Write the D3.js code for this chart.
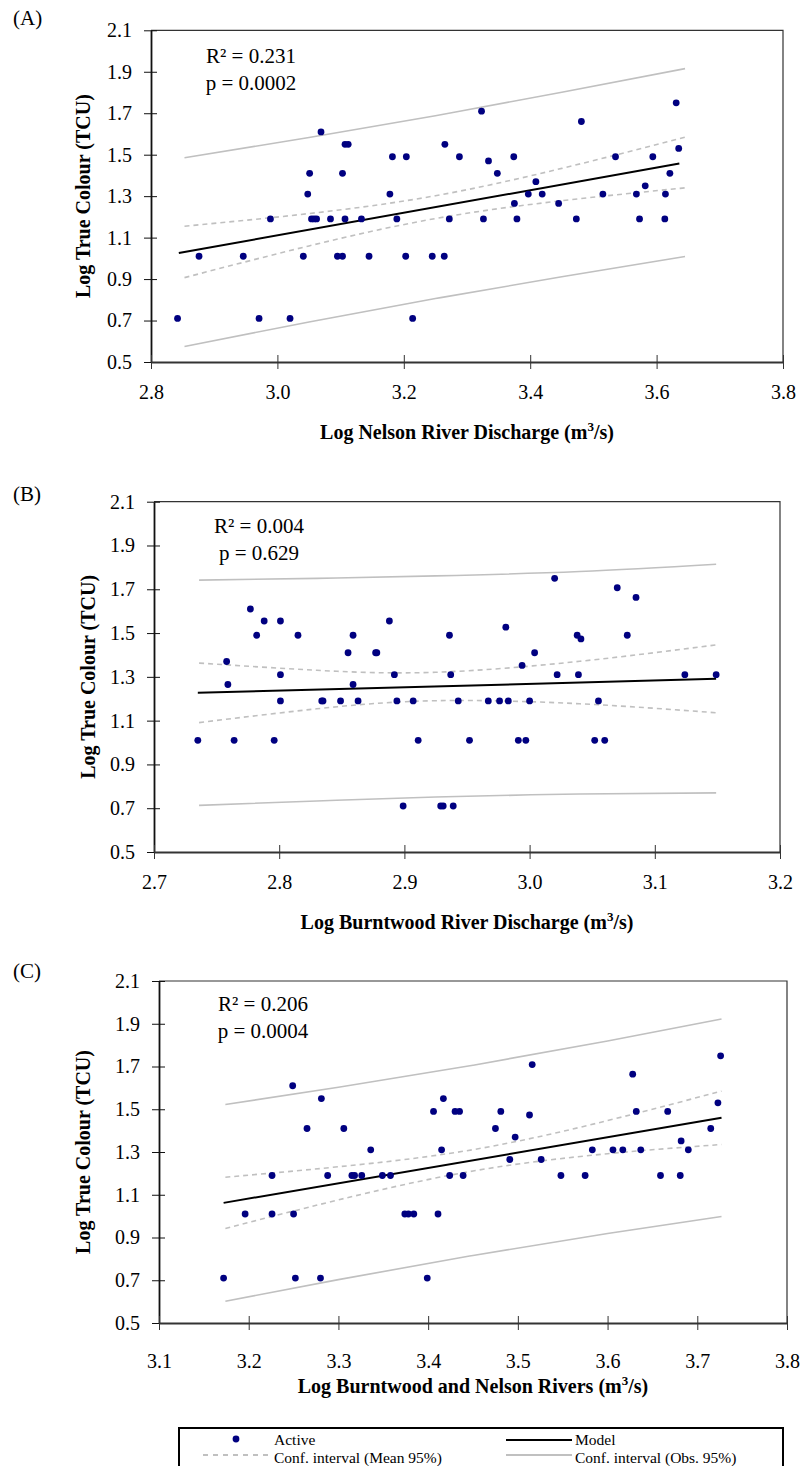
<!DOCTYPE html>
<html><head><meta charset="utf-8">
<script src="https://cdn.jsdelivr.net/npm/d3@7"></script>
<style>
body{margin:0;background:#fff;}
svg{display:block;font-family:"Liberation Serif","Times New Roman",serif;}
</style>
</head><body><svg id="c" width="801" height="1466"></svg>
<script>
// ---------- shared ----------
const yTicks = [0.5,0.7,0.9,1.1,1.3,1.5,1.7,1.9,2.1];
const panelLetters = ["(A)","(B)","(C)"];
const xTitles = ["Log Nelson River Discharge (m", "Log Burntwood River Discharge (m", "Log Burntwood and Nelson Rivers (m"];
const yTitle = "Log True Colour (TCU)";
const statsR2 = ["0.231","0.004","0.206"];
const statsP = ["0.0002","0.629","0.0004"];
const legendLabels = ["Active","Model","Conf. interval (Mean 95%)","Conf. interval (Obs. 95%)"];

// ---------- panel A ----------
const xTicksA = [2.8,3.0,3.2,3.4,3.6,3.8];
const xA = [2.842,2.876,2.946,2.971,2.989,3.020,3.041,3.048,3.051,3.054,3.058,3.062,3.069,3.084,3.095,3.103,3.103,3.107,3.107,3.112,3.133,3.145,3.178,3.182,3.189,3.203,3.204,3.214,3.245,3.264,3.265,3.272,3.288,3.323,3.326,3.334,3.348,3.374,3.375,3.379,3.397,3.409,3.419,3.445,3.473,3.481,3.515,3.535,3.568,3.573,3.582,3.594,3.613,3.614,3.621,3.631,3.635];
const yA = [0.71,1.01,1.01,0.71,1.19,0.71,1.01,1.31,1.41,1.19,1.19,1.19,1.61,1.19,1.01,1.01,1.41,1.19,1.55,1.55,1.19,1.01,1.31,1.49,1.19,1.01,1.49,0.71,1.01,1.01,1.55,1.19,1.49,1.71,1.19,1.47,1.41,1.49,1.265,1.19,1.31,1.37,1.31,1.265,1.19,1.66,1.31,1.49,1.31,1.19,1.35,1.49,1.19,1.31,1.41,1.75,1.53];
const modelXA = [2.844,3.636];
const modelYA = [1.026,1.457];
const ciXA = [2.853,3.05,3.25,3.45,3.645];
const meanUpA = [1.155,1.216,1.302,1.434,1.584];
const meanLoA = [0.907,1.060,1.192,1.278,1.340];
const obsUpA = [1.485,1.583,1.688,1.801,1.915];
const obsLoA = [0.575,0.693,0.806,0.911,1.009];

// ---------- panel B ----------
const xTicksB = [2.7,2.8,2.9,3.0,3.1,3.2];
const xB = [2.735,2.758,2.759,2.764,2.777,2.782,2.788,2.796,2.801,2.801,2.801,2.815,2.834,2.835,2.849,2.855,2.859,2.859,2.863,2.877,2.878,2.888,2.892,2.894,2.899,2.907,2.911,2.929,2.931,2.936,2.937,2.939,2.943,2.952,2.967,2.976,2.981,2.983,2.991,2.994,2.997,3.000,3.004,3.020,3.022,3.038,3.039,3.041,3.052,3.055,3.060,3.070,3.078,3.085,3.124,3.149];
const yB = [1.01,1.37,1.265,1.01,1.61,1.49,1.555,1.01,1.555,1.31,1.19,1.49,1.19,1.19,1.19,1.41,1.49,1.265,1.19,1.41,1.41,1.555,1.31,1.19,0.71,1.19,1.01,0.71,0.71,1.49,1.31,0.71,1.19,1.01,1.19,1.19,1.527,1.19,1.01,1.352,1.01,1.19,1.41,1.75,1.31,1.49,1.31,1.473,1.01,1.19,1.01,1.707,1.49,1.663,1.31,1.31];
const modelXB = [2.735,3.149];
const modelYB = [1.227,1.291];
const ciXB = [2.736,2.83,2.925,3.04,3.149];
const meanUpB = [1.363,1.330,1.321,1.371,1.446];
const meanLoB = [1.091,1.154,1.191,1.177,1.136];
const obsUpB = [1.742,1.750,1.761,1.781,1.814];
const obsLoB = [0.713,0.733,0.751,0.765,0.770];

// ---------- panel C ----------
const xTicksC = [3.1,3.2,3.3,3.4,3.5,3.6,3.7,3.8];
const xC = [3.172,3.196,3.226,3.226,3.249,3.250,3.252,3.265,3.280,3.281,3.288,3.306,3.315,3.318,3.326,3.336,3.349,3.358,3.374,3.378,3.384,3.399,3.406,3.411,3.415,3.417,3.424,3.430,3.435,3.439,3.475,3.481,3.491,3.497,3.513,3.516,3.526,3.548,3.575,3.583,3.606,3.617,3.628,3.632,3.637,3.659,3.667,3.681,3.682,3.690,3.715,3.723,3.726];
const yC = [0.71,1.01,1.19,1.01,1.61,1.01,0.71,1.41,0.71,1.55,1.19,1.41,1.19,1.19,1.19,1.31,1.19,1.19,1.01,1.01,1.01,0.71,1.49,1.01,1.31,1.55,1.19,1.49,1.49,1.19,1.41,1.49,1.265,1.37,1.473,1.709,1.265,1.19,1.19,1.31,1.31,1.31,1.664,1.49,1.31,1.19,1.49,1.19,1.352,1.31,1.41,1.53,1.75];
const modelXC = [3.172,3.727];
const modelYC = [1.062,1.460];
const ciXC = [3.174,3.30,3.45,3.60,3.727];
const meanUpC = [1.182,1.231,1.311,1.447,1.585];
const meanLoC = [0.942,1.076,1.211,1.292,1.335];
const obsUpC = [1.522,1.603,1.706,1.819,1.922];
const obsLoC = [0.602,0.703,0.816,0.919,0.998];

// ---------- layout ----------
const layouts = [
  {l:151, t:30.3, r:783, b:362, tickLblY:37, titleY:77, yTitleX:90, statX:251, statY:63, letterY:25},
  {l:154, t:501.7, r:780, b:852, tickLblY:37, titleY:77, yTitleX:95, statX:259, statY:533, letterY:501},
  {l:159, t:981, r:787, b:1323, tickLblY:45, titleY:70, yTitleX:90, statX:263, statY:1011, letterY:978}
];
const panels = [
  {xt:xTicksA, x:xA, y:yA, mx:modelXA, my:modelYA, cx:ciXA, mu:meanUpA, ml:meanLoA, ou:obsUpA, ol:obsLoA},
  {xt:xTicksB, x:xB, y:yB, mx:modelXB, my:modelYB, cx:ciXB, mu:meanUpB, ml:meanLoB, ou:obsUpB, ol:obsLoB},
  {xt:xTicksC, x:xC, y:yC, mx:modelXC, my:modelYC, cx:ciXC, mu:meanUpC, ml:meanLoC, ou:obsUpC, ol:obsLoC}
];

const svg = d3.select("#c");
const NAVY = "#000080", GREY = "#c0c0c0";

panels.forEach((p, i) => {
  const L = layouts[i];
  const x = d3.scaleLinear().domain([p.xt[0], p.xt[p.xt.length-1]]).range([L.l, L.r]);
  const y = d3.scaleLinear().domain([yTicks[0], yTicks[yTicks.length-1]]).range([L.b, L.t]);
  const g = svg.append("g");

  g.append("path")
    .attr("d", `M${L.l},${L.t}H${L.r}V${L.b}`)
    .attr("fill","none").attr("stroke","#333").attr("stroke-width",1.2);

  const ya = g.append("g").attr("transform",`translate(${L.l},0)`)
    .call(d3.axisLeft(y).tickValues(yTicks).tickFormat(d3.format(".1f")).tickSize(7).tickPadding(12).tickSizeOuter(0));
  ya.select(".domain").attr("stroke","#111").attr("stroke-width",1.8);
  ya.selectAll(".tick line").attr("x1",-7).attr("x2",6).attr("stroke","#111");
  ya.selectAll(".tick text").attr("font-size",20).attr("font-family","Liberation Serif").attr("fill","#000");

  const xa = g.append("g").attr("transform",`translate(0,${L.b})`)
    .call(d3.axisBottom(x).tickValues(p.xt).tickFormat(d3.format(".1f")).tickSize(7).tickSizeOuter(0));
  xa.select(".domain").attr("stroke","#333").attr("stroke-width",2);
  xa.selectAll(".tick line").attr("y1",-7).attr("y2",7).attr("stroke","#333");
  xa.selectAll(".tick text").attr("font-size",20).attr("font-family","Liberation Serif").attr("fill","#000")
    .attr("dy",null).attr("y",L.tickLblY);

  const lineC = d3.line().x(d=>x(d[0])).y(d=>y(d[1])).curve(d3.curveNatural);
  const zip = (xs, ys) => xs.map((v,k)=>[v, ys[k]]);
  g.append("path").attr("d", lineC(zip(p.cx, p.ou))).attr("fill","none").attr("stroke",GREY).attr("stroke-width",1.6);
  g.append("path").attr("d", lineC(zip(p.cx, p.ol))).attr("fill","none").attr("stroke",GREY).attr("stroke-width",1.6);
  g.append("path").attr("d", lineC(zip(p.cx, p.mu))).attr("fill","none").attr("stroke",GREY).attr("stroke-width",1.6).attr("stroke-dasharray","5,4");
  g.append("path").attr("d", lineC(zip(p.cx, p.ml))).attr("fill","none").attr("stroke",GREY).attr("stroke-width",1.6).attr("stroke-dasharray","5,4");
  g.append("path").attr("d", d3.line().x(d=>x(d[0])).y(d=>y(d[1]))(zip(p.mx, p.my)))
    .attr("fill","none").attr("stroke","#000").attr("stroke-width",2);

  g.selectAll("circle.pt").data(zip(p.x, p.y)).join("circle")
    .attr("class","pt").attr("cx",d=>x(d[0])).attr("cy",d=>y(d[1])).attr("r",3.4).attr("fill",NAVY);

  const st = g.append("text").attr("font-size",21).attr("text-anchor","middle").attr("fill","#000");
  st.append("tspan").attr("x",L.statX).attr("y",L.statY).text("R² = " + statsR2[i]);
  st.append("tspan").attr("x",L.statX).attr("y",L.statY+27).text("p = " + statsP[i]);

  g.append("text").attr("x",13).attr("y",L.letterY).attr("font-size",21).text(panelLetters[i]);

  const xt = g.append("text").attr("x",(L.l+L.r)/2).attr("y",L.b+L.titleY)
    .attr("text-anchor","middle").attr("font-size",20).attr("font-weight","bold");
  xt.append("tspan").text(xTitles[i]);
  xt.append("tspan").attr("font-size",13).attr("dy",-8).text("3");
  xt.append("tspan").attr("dy",8).text("/s)");

  g.append("text").attr("transform",`translate(${L.yTitleX},${(L.t+L.b)/2}) rotate(-90)`)
    .attr("text-anchor","middle").attr("font-size",20).attr("font-weight","bold").text(yTitle);
});

// ---------- legend ----------
const lg = svg.append("g");
lg.append("rect").attr("x",179).attr("y",1428).attr("width",604).attr("height",60)
  .attr("fill","#fff").attr("stroke","#000").attr("stroke-width",2);
lg.append("circle").attr("cx",236).attr("cy",1439).attr("r",3.4).attr("fill",NAVY);
lg.append("line").attr("x1",203).attr("x2",271).attr("y1",1455).attr("y2",1455)
  .attr("stroke",GREY).attr("stroke-width",2).attr("stroke-dasharray","5,5");
lg.append("line").attr("x1",506).attr("x2",572).attr("y1",1440).attr("y2",1440)
  .attr("stroke","#000").attr("stroke-width",2);
lg.append("line").attr("x1",506).attr("x2",572).attr("y1",1455).attr("y2",1455)
  .attr("stroke",GREY).attr("stroke-width",2);
const lpos = [[274,1445],[575,1445],[274,1463],[575,1463]];
legendLabels.forEach((t,k)=>{
  lg.append("text").attr("x",lpos[k][0]).attr("y",lpos[k][1]).attr("font-size",15.5).text(t);
});
</script>
</body></html>
